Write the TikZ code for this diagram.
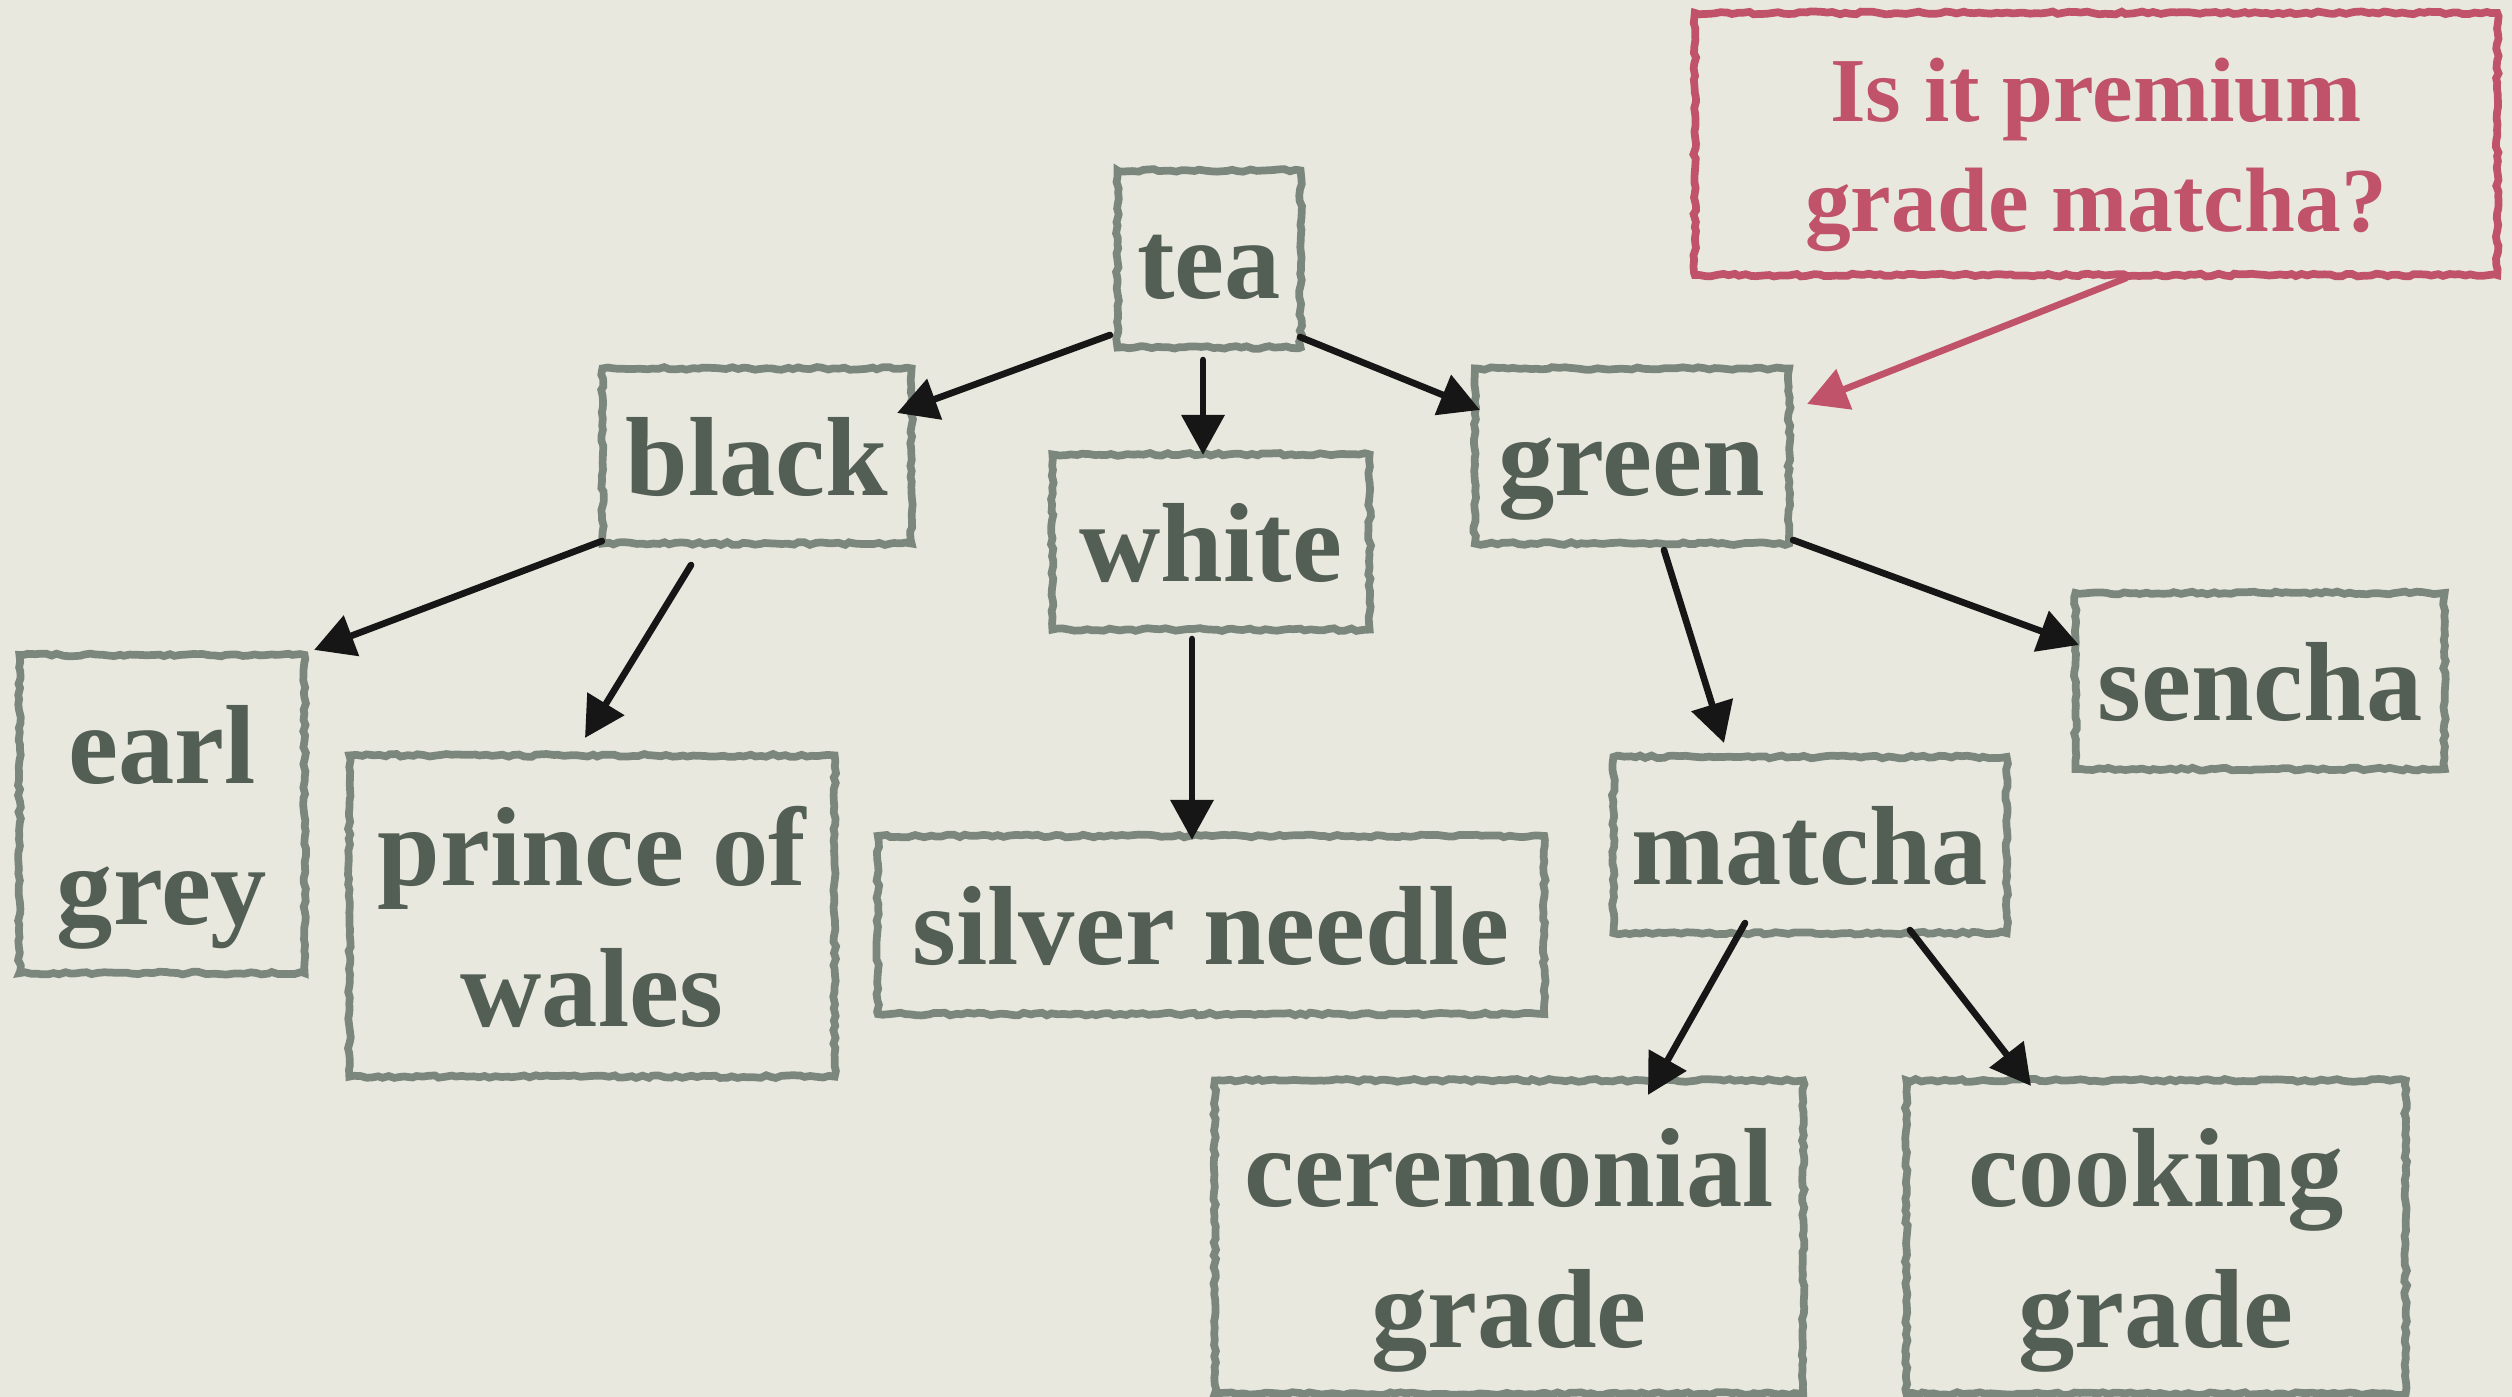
\documentclass[tikz,border=0pt]{standalone}
\usepackage{fontspec}
\setmainfont{Liberation Serif}
\usetikzlibrary{arrows.meta,calc,decorations.pathmorphing}

\definecolor{paper}{HTML}{E8E8DE}
\definecolor{boxline}{HTML}{7B877D}
\definecolor{ink}{HTML}{535F55}
\definecolor{calloutred}{HTML}{C0526A}
\definecolor{pencil}{HTML}{161616}

% struts keep the text of every box on the same vertical grid
\newcommand\oneline[1]{\rule[-0.24em]{0pt}{1.19em}#1}
\newcommand\twolines[2]{\rule{0pt}{0.95em}#1\\#2\rule[-0.24em]{0pt}{0.24em}}

\begin{document}
\begin{tikzpicture}[x=0.01cm, y=-0.01cm,
  sketchy/.style={decorate, decoration={random steps, segment length=1.6pt, amplitude=0.4pt}},
  leaf/.style={sketchy, draw=boxline, line width=2.2pt, text=ink,
    font=\bfseries\fontsize{32}{40}\selectfont, align=center,
    inner sep=0pt, outer sep=0pt},
  note/.style={leaf, draw=calloutred, text=calloutred,
    font=\bfseries\fontsize{26}{31.5}\selectfont},
  link/.style={draw=pencil, line width=1.9pt, line cap=round,
    -{Triangle[length=0.40cm, width=0.42cm]}},
  notelink/.style={link, draw=calloutred},
]
\pgfmathsetseed{7}
\fill[paper] (0,0) rectangle (2512,1397);
\useasboundingbox (0,0) rectangle (2512,1397);

% tree of teas
\node[leaf, minimum width=1.83cm, minimum height=1.77cm] (tea) at (1209,259) {\oneline{tea}};
\node[leaf, minimum width=3.09cm, minimum height=1.75cm] (black) at (757,456) {\oneline{black}};
\node[leaf, minimum width=3.17cm, minimum height=1.75cm] (white) at (1211,542) {\oneline{white}};
\node[leaf, minimum width=3.14cm, minimum height=1.75cm] (green) at (1632,456) {\oneline{green}};
\node[leaf, minimum width=2.85cm, minimum height=3.18cm] (earl) at (162,814) {\twolines{earl}{grey}};
\node[leaf, minimum width=4.85cm, minimum height=3.21cm] (prince) at (592,916) {\twolines{prince of}{wales}};
\node[leaf, minimum width=6.66cm, minimum height=1.78cm] (silver) at (1211,925) {\oneline{silver needle}};
\node[leaf, minimum width=3.93cm, minimum height=1.76cm] (matcha) at (1810,845) {\oneline{matcha}};
\node[leaf, minimum width=3.69cm, minimum height=1.76cm] (sencha) at (2260,681) {\oneline{sencha}};
\node[leaf, minimum width=5.88cm, minimum height=3.13cm] (ceremonial) at (1509,1237) {\twolines{ceremonial}{grade}};
\node[leaf, minimum width=4.99cm, minimum height=3.13cm] (cooking) at (2156,1237) {\twolines{cooking}{grade}};

% the question box
\node[note, minimum width=8.02cm, minimum height=2.62cm] (question) at (2096,144) {\twolines{Is it premium}{grade matcha?}};

% connectors
\draw[link] ($(tea.south west)+(-7.5,-12.5)$) -- ($(black.north east)+(-14.5,44.5)$);
\draw[link] ($(tea.south)+(-6,12.5)$) -- ($(white.north)+(-8,0.5)$);
\draw[link] ($(tea.south east)+(-0.5,-10.5)$) -- ($(green.north west)+(5,41.5)$);
\draw[link] ($(black.south west)+(-0.5,-2.5)$) -- ($(earl.north east)+(9.5,-5)$);
\draw[link] ($(black.south)+(-66,21.5)$) -- ($(prince.north)+(-7,-17.5)$);
\draw[link] ($(white.south)+(-19,9.5)$) -- ($(silver.north)+(-19,4)$);
\draw[link] ($(green.south)+(32,6.5)$) -- ($(matcha.north)+(-86,-14)$);
\draw[link] ($(green.south east)+(4,-3.5)$) -- ($(sencha.north west)+(3.5,52)$);
\draw[link] ($(matcha.south)+(-65,-10)$) -- ($(ceremonial.north)+(139,14.5)$);
\draw[link] ($(matcha.south)+(100,-3)$) -- ($(cooking.north)+(-125,5.5)$);
\draw[notelink] ($(question.south)+(30,3)$) -- ($(green.north east)+(18,35.5)$);
\end{tikzpicture}
\end{document}
